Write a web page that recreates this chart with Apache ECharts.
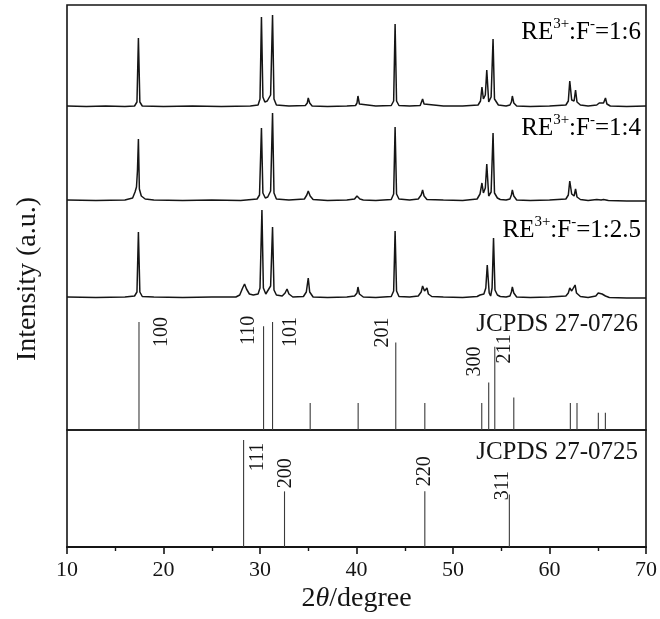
<!DOCTYPE html>
<html>
<head>
<meta charset="utf-8">
<script src="https://cdn.jsdelivr.net/npm/echarts@6/dist/echarts.min.js"></script>
<style>
  html, body { margin: 0; padding: 0; background: #fff; }
  #chart { width: 660px; height: 619px; }
</style>
</head>
<body>
<div id="chart"></div>
<script>
// ---- Data -------------------------------------------------------------
// Measured XRD patterns: [2theta (deg), intensity (a.u.)]
const pattern_1_6 = [
  [10,1],[12,0.5],[14,1],[16,0.5],[17.0,1],
  [17.25,5],[17.4,69],[17.55,5],[17.8,1],
  [20,0.5],[23,1],[26,0.5],[29,1],[29.8,2],
  [30.0,8],[30.15,90],[30.3,10],[30.5,5],[30.75,6],[31.1,12],[31.3,92],[31.45,8],[31.7,2],
  [33,1],[34.7,1.5],[34.9,4],[35.0,9],[35.15,4],[35.4,1],
  [37,0.5],[39,1],[39.9,1.5],[40.05,4],[40.15,11],[40.3,3],[40.5,1],
  [42,1],[43.6,1.5],[43.85,6],[44.0,83],[44.15,6],[44.4,1.5],
  [45.5,1],[46.6,1.5],[46.75,3],[46.85,8],[47.0,3],[47.2,1],
  [49,1],[51,1],[52.6,2],[52.85,6],[53.0,20],[53.15,8],[53.35,12],[53.5,37],[53.7,5],
  [53.95,10],[54.15,68],[54.3,8],[54.45,6],[54.7,2],
  [55.5,1],[55.9,2],[56.05,5],[56.15,11],[56.3,4],[56.6,1],
  [58,0.5],[60,1],[61.7,2],[61.95,6],[62.1,26],[62.3,7],[62.55,6],[62.7,17],[62.85,5],[63.2,2],
  [64,1],[64.9,2],[65.15,4],[65.35,2],[65.6,4],[65.8,9],[65.95,3],[66.3,1],
  [68,0.5],[70,1]
];
const pattern_1_4 = [
  [10,1],[13,0.5],[16,1],[16.8,3],[17.05,9],[17.2,14],[17.3,30],[17.4,62],[17.5,12],[17.7,5],[18.1,2],[19,1],
  [22,0.5],[25,1],[28,0.5],[29.7,2],[29.95,6],[30.15,73],[30.3,8],[30.55,3],[30.8,4],[31.1,10],[31.3,88],[31.45,8],[31.7,2],
  [33,1],[34.6,2],[34.85,6],[35.0,10],[35.2,5],[35.5,1.5],
  [37,0.5],[39,1],[39.8,2],[40.05,5],[40.15,6],[40.35,2],[40.7,1],
  [42,0.5],[43.6,1.5],[43.85,7],[44.0,74],[44.15,7],[44.4,2],
  [45.5,1],[46.4,2],[46.7,6],[46.85,11],[47.0,5],[47.3,1.5],
  [49,1],[51,0.5],[52.5,2],[52.8,7],[53.0,18],[53.15,8],[53.35,13],[53.5,37],[53.7,5],
  [53.95,9],[54.15,68],[54.3,8],[54.6,3],[54.9,1.5],
  [55.5,1],[55.9,2],[56.05,6],[56.15,11],[56.3,5],[56.6,1],
  [58,0.5],[60,1],[61.7,2],[61.95,6],[62.1,20],[62.3,7],[62.55,5],[62.7,12],[62.85,4],[63.2,1.5],
  [64,0.5],[64.9,1.5],[65.1,3],[65.35,1],[65.6,1.5],[65.75,2],[66.1,0.5],
  [68,0],[70,0]
];
const pattern_1_25 = [
  [10,1],[13,0.5],[16,1],[17.0,2],[17.25,6],[17.4,66],[17.55,6],[17.8,1.5],[19,1],
  [22,0.5],[25,1],[27.5,1],[27.9,3],[28.2,10],[28.4,14],[28.6,9],[28.9,4],[29.3,3],[29.8,4],
  [30.0,10],[30.2,88],[30.35,10],[30.6,4],[30.8,5],[31.1,12],[31.3,71],[31.45,8],[31.7,3],
  [32.3,2],[32.6,5],[32.8,9],[33.0,4],[33.4,1],
  [34.5,1.5],[34.8,6],[35.0,20],[35.15,6],[35.5,1],
  [37,0.5],[39,1],[39.8,2],[40.05,5],[40.15,11],[40.3,4],[40.7,1],
  [42,0.5],[43.6,1.5],[43.85,7],[44.0,67],[44.15,7],[44.4,1.5],
  [45.5,1],[46.4,2],[46.7,6],[46.85,12],[47.05,7],[47.3,10],[47.45,4],[47.8,1.5],
  [49,1],[51,0.5],[52.5,1.5],[52.8,3],[53.0,5],[53.2,4],[53.4,10],[53.55,33],[53.75,5],[53.9,2],
  [54.05,10],[54.2,60],[54.35,8],[54.6,3],[54.9,1.5],
  [55.5,1],[55.9,2],[56.05,6],[56.15,11],[56.3,5],[56.6,1],
  [58,0.5],[60,1],[61.7,2],[61.95,5],[62.1,10],[62.3,7],[62.5,8],[62.65,13],[62.8,5],[63.2,1.5],
  [64,0.5],[64.8,2],[65.05,5],[65.25,3],[65.45,4],[65.6,6],[65.8,2],[66.2,0.5],
  [68,0],[70,0]
];

// Reference card JCPDS 27-0726 (hexagonal): positions, relative intensities, hkl
const ref0726Pos = [17.46, 30.37, 31.30, 35.20, 40.17, 44.07, 47.08, 52.98, 53.70, 54.33, 56.30, 62.16, 62.85, 65.06, 65.79];
const ref0726Int = [100, 96, 100, 25, 25, 81, 25, 25, 44, 77, 30, 25, 25, 16, 16];
const ref0726Hkl = ['100', '110', '101', '', '', '201', '', '', '300', '211', '', '', '', '', ''];

// Reference card JCPDS 27-0725 (cubic)
const ref0725Pos = [28.30, 32.54, 47.08, 55.84];
const ref0725Int = [100, 52, 52, 49];
const ref0725Hkl = ['111', '200', '220', '311'];

// x axis tick labels
const xTicks = [10, 20, 30, 40, 50, 60, 70];

// ---- Layout / style ---------------------------------------------------
const FONT = '"Liberation Serif", "Times New Roman", serif';
const INK = '#151515';
const LEFT = 67, WIDTH = 579;
// vertical stacking of the measured patterns (a.u.)
const stack = [
  { name: 'RE3+:F-=1:6', data: pattern_1_6, offset: 198, ratio: '1:6', labelY: 30 },
  { name: 'RE3+:F-=1:4', data: pattern_1_4, offset: 104, ratio: '1:4', labelY: 126 },
  { name: 'RE3+:F-=1:2.5', data: pattern_1_25, offset: 7, ratio: '1:2.5', labelY: 228 }
];
// hkl label placement relative to the top of its stick (px)
const hklOffset = {
  '100': [23, 10], '110': [-15, 4], '101': [18, 10], '201': [-13, -10],
  '300': [-14, -21], '211': [10, 2],
  '111': [14, 17], '200': [1, -18], '220': [0, -20], '311': [-7, -9]
};

function stickSeries(idx, pos, inten, hkl) {
  return {
    type: 'custom',
    xAxisIndex: idx, yAxisIndex: idx,
    clip: false,
    silent: true,
    data: pos.map((x, i) => [x, inten[i], i]),
    renderItem: function (params, api) {
      const x = api.value(0), h = api.value(1), i = api.value(2);
      const p0 = api.coord([x, 0]);
      const p1 = api.coord([x, h]);
      const children = [{
        type: 'line',
        shape: { x1: p0[0], y1: p0[1], x2: p1[0], y2: p1[1] },
        style: { stroke: '#3a3a3a', lineWidth: 1.1 }
      }];
      const t = hkl[i];
      if (t) {
        const o = hklOffset[t] || [0, 0];
        children.push({
          type: 'text',
          x: p1[0] + o[0], y: p1[1] + o[1],
          rotation: Math.PI / 2,
          style: {
            text: t, x: 0, y: 0, align: 'center', verticalAlign: 'middle',
            fontFamily: FONT, fontSize: 20, fill: INK
          }
        });
      }
      return { type: 'group', children: children };
    }
  };
}

const hiddenX = (gi) => ({
  type: 'value', gridIndex: gi, min: 10, max: 70, show: false
});
const hiddenY = (gi, max) => ({
  type: 'value', gridIndex: gi, min: 0, max: max, show: false
});

const chart = echarts.init(document.getElementById('chart'), null, { renderer: 'canvas' });

const reRich = {
  a: { fontFamily: FONT, fontSize: 25, lineHeight: 30, color: INK, verticalAlign: 'bottom' },
  s: { fontFamily: FONT, fontSize: 15, lineHeight: 30, color: INK, verticalAlign: 'top', padding: [2, 0, 0, 0] }
};

const option = {
  backgroundColor: '#fff',
  animation: false,
  grid: [
    // 0: measured patterns
    { left: LEFT, width: WIDTH, top: 5, height: 300, show: false },
    // 1: JCPDS 27-0726 sticks
    { left: LEFT, width: WIDTH, top: 322, height: 108, show: false },
    // 2: JCPDS 27-0725 sticks
    { left: LEFT, width: WIDTH, top: 440, height: 107, show: false },
    // 3: upper frame
    { left: LEFT, width: WIDTH, top: 5, height: 425, show: true, borderColor: INK, borderWidth: 1.6, backgroundColor: 'transparent' },
    // 4: lower frame with the 2theta axis
    { left: LEFT, width: WIDTH, top: 430, height: 117, show: true, borderColor: INK, borderWidth: 1.6, backgroundColor: 'transparent' }
  ],
  xAxis: [
    hiddenX(0), hiddenX(1), hiddenX(2), hiddenX(3),
    {
      type: 'value', gridIndex: 4, min: 10, max: 70, interval: 10,
      position: 'bottom',
      axisLine: { show: true, lineStyle: { color: INK, width: 2 } },
      axisTick: { show: true, inside: false, length: 7, lineStyle: { color: INK, width: 1.6 } },
      minorTick: { show: true, splitNumber: 2, length: 4, lineStyle: { color: INK, width: 1.4 } },
      splitLine: { show: false },
      axisLabel: {
        margin: 12, color: INK, fontFamily: FONT, fontSize: 22,
        formatter: (v) => (xTicks.indexOf(v) >= 0 ? String(v) : '')
      },
      name: '{n|2}{i|θ}{n|/degree}',
      nameLocation: 'middle',
      nameGap: 38,
      nameTextStyle: {
        rich: {
          n: { fontFamily: FONT, fontSize: 28, color: INK },
          i: { fontFamily: FONT, fontSize: 28, color: INK, fontStyle: 'italic' }
        }
      }
    }
  ],
  yAxis: [
    hiddenY(0, 300), hiddenY(1, 100), hiddenY(2, 100), hiddenY(3, 100), hiddenY(4, 100)
  ],
  series: [
    ...stack.map(s => ({
      type: 'line',
      name: s.name,
      xAxisIndex: 0, yAxisIndex: 0,
      showSymbol: false,
      symbol: 'none',
      silent: true,
      lineStyle: { color: INK, width: 1.5 },
      data: s.data.map(p => [p[0], p[1] + s.offset])
    })),
    stickSeries(1, ref0726Pos, ref0726Int, ref0726Hkl),
    stickSeries(2, ref0725Pos, ref0725Int, ref0725Hkl)
  ],
  graphic: [
    {
      type: 'text', x: 28, y: 279, rotation: Math.PI / 2,
      style: {
        text: 'Intensity (a.u.)', x: 0, y: 0, align: 'center', verticalAlign: 'middle',
        fontFamily: FONT, fontSize: 28, fill: INK
      }
    },
    ...stack.map(s => ({
      type: 'text', x: 641, y: s.labelY,
      style: {
        text: '{a|RE}{s|3+}{a|:F}{s|-}{a|=' + s.ratio + '}',
        rich: reRich, x: 0, y: 0, align: 'right', verticalAlign: 'middle'
      }
    })),
    {
      type: 'text', x: 638, y: 324,
      style: { text: 'JCPDS 27-0726', x: 0, y: 0, align: 'right', verticalAlign: 'middle', fontFamily: FONT, fontSize: 25, fill: INK }
    },
    {
      type: 'text', x: 638, y: 452,
      style: { text: 'JCPDS 27-0725', x: 0, y: 0, align: 'right', verticalAlign: 'middle', fontFamily: FONT, fontSize: 25, fill: INK }
    }
  ]
};

chart.setOption(option);
</script>
</body>
</html>
